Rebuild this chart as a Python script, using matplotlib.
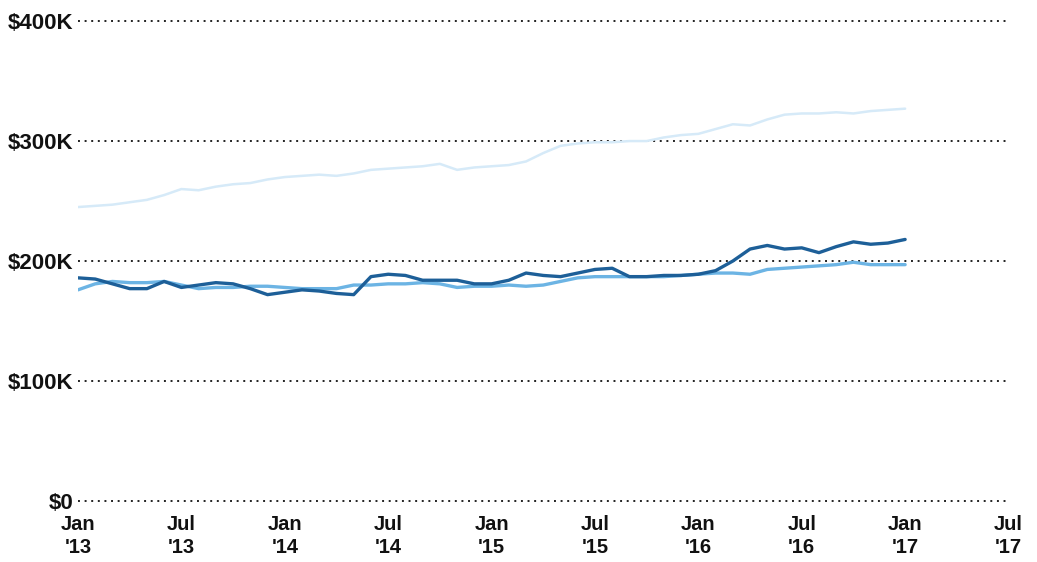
import numpy as np
import matplotlib
matplotlib.use("Agg")
import matplotlib.pyplot as plt

# monthly values, Jan 2013 .. Jan 2017 (in $K)
months = np.arange(49)

top_line = [245, 246, 247, 249, 251, 255, 260, 259, 262, 264, 265, 268,
            270, 271, 272, 271, 273, 276, 277, 278, 279, 281, 276, 278,
            279, 280, 283, 290, 296, 298, 299, 299, 300, 300, 303, 305,
            306, 310, 314, 313, 318, 322, 323, 323, 324, 323, 325, 326, 327]

dark_line = [186, 185, 181, 177, 177, 183, 178, 180, 182, 181, 177, 172,
             174, 176, 175, 173, 172, 187, 189, 188, 184, 184, 184, 181,
             181, 184, 190, 188, 187, 190, 193, 194, 187, 187, 188, 188,
             189, 192, 200, 210, 213, 210, 211, 207, 212, 216, 214, 215, 218]

mid_line = [176, 181, 183, 182, 182, 183, 180, 177, 178, 178, 179, 179,
            178, 177, 177, 177, 180, 180, 181, 181, 182, 181, 178, 179,
            179, 180, 179, 180, 183, 186, 187, 187, 187, 187, 187, 188,
            189, 190, 190, 189, 193, 194, 195, 196, 197, 199, 197, 197, 197]

tick_pos = np.arange(0, 55, 6)
tick_labels = ["Jan\n'13", "Jul\n'13", "Jan\n'14", "Jul\n'14", "Jan\n'15",
               "Jul\n'15", "Jan\n'16", "Jul\n'16", "Jan\n'17", "Jul\n'17"]
y_ticks = [0, 100, 200, 300, 400]
y_labels = ["$0", "$100K", "$200K", "$300K", "$400K"]

plt.rcParams['font.family'] = ['Liberation Sans', 'DejaVu Sans']

fig = plt.figure(figsize=(10.37, 5.62), dpi=100)
ax = fig.add_axes([0.0752, 0.1085, 0.899, 0.854])

ax.plot(months, top_line, color='#d6eaf8', lw=1.8, solid_capstyle='round')
ax.plot(months, mid_line, color='#6cb4e4', lw=2.4, solid_capstyle='round')
ax.plot(months, dark_line, color='#1d5f98', lw=2.4, solid_capstyle='round')

ax.set_ylim(0, 400)
ax.set_xlim(0, 54.1)

# dotted gridlines
for y in y_ticks:
    ax.axhline(y, color='#222222', lw=1.4, linestyle=(0, (1, 2.4)), zorder=0,
               clip_on=False)

ax.set_yticks(y_ticks)
ax.set_yticklabels(y_labels, fontsize=16, fontweight='bold')
ax.set_xticks(tick_pos)
ax.set_xticklabels(tick_labels, fontsize=14.5, fontweight='bold', linespacing=1.3)
ax.tick_params(axis='both', length=0, colors='#111111')
ax.tick_params(axis='y', pad=3)
ax.tick_params(axis='x', pad=10)

for s in ax.spines.values():
    s.set_visible(False)

fig.savefig("out.png", dpi=100)
